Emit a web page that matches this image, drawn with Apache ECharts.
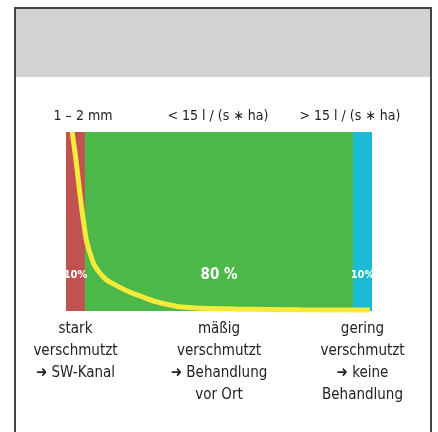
<!DOCTYPE html>
<html>
<head>
<meta charset="utf-8">
<script src="https://cdn.jsdelivr.net/npm/echarts@6/dist/echarts.min.js"></script>
<style>
  html, body { margin: 0; padding: 0; background: #fff; }
  #chart { width: 438px; height: 432px; }
</style>
</head>
<body>
<div id="chart"></div>
<script>
// segment widths along the axis (0..100) and their texts
const segments = [6.2, 87.6, 6.2];
const segmentColors = ['#c05352', '#4cb849', '#1bbcd3'];
const segmentLabels = ['10%', '80 %', '10%'];
const headLabels = ['1 – 2 mm', '< 15 l / (s ∗ ha)', '> 15 l / (s ∗ ha)'];
const footLabels = [
  'stark\nverschmutzt\n➜ SW-Kanal',
  'mäßig\nverschmutzt\n➜ Behandlung\nvor Ort',
  'gering\nverschmutzt\n➜ keine\nBehandlung'
];
// yellow curve: [x, y]
const curve = [
  [2.0, 100], [3.3, 83.8], [4.6, 64.8], [5.9, 48.0], [7.5, 34.1],
  [11.1, 21.2], [16.7, 14.0], [24.2, 8.4], [32.4, 3.9], [42.2, 1.7],
  [55.2, 1.1], [76.5, 0.7], [99.3, 0.6]
];

const font = '"DejaVu Sans Condensed", "Liberation Sans Narrow", sans-serif';
const chart = echarts.init(document.getElementById('chart'));

const GRID = { left: 66, right: 66, top: 132, bottom: 121 };

chart.setOption({
  animation: false,
  grid: GRID,
  xAxis: [
    { type: 'value', min: 0, max: 100, show: false },
    { type: 'value', min: 0, max: 100, show: false }
  ],
  yAxis: [
    { type: 'value', min: 0, max: 100, show: false },
    { type: 'category', data: [''], show: false }
  ],
  series: segments.map((v, i) => ({
    type: 'bar',
    stack: 'all',
    xAxisIndex: 1,
    yAxisIndex: 1,
    barWidth: '100%',
    data: [v],
    itemStyle: { color: segmentColors[i] },
    label: {
      show: true,
      formatter: segmentLabels[i],
      position: ['50%', '80%'],
      align: 'center',
      verticalAlign: 'middle',
      color: '#fff',
      fontFamily: font,
      fontWeight: 'bold',
      fontSize: i === 1 ? 15 : 11
    }
  })).concat([{
    type: 'line',
    xAxisIndex: 0,
    yAxisIndex: 0,
    data: curve,
    smooth: 0.5,
    showSymbol: false,
    lineStyle: { color: '#f7ea38', width: 5 },
    z: 5
  }])
});

// frame, header band and texts
const graphic = [
  {
    type: 'rect',
    shape: { x: 15, y: 9, width: 415, height: 68 },
    style: { fill: '#d1d2d4' }
  },
  {
    type: 'rect',
    shape: { x: 15, y: 8, width: 416, height: 440 },
    style: { fill: null, stroke: '#444', lineWidth: 2 }
  }
];
const headX = [83, 218, 350];
headLabels.forEach((t, i) => {
  graphic.push({
    type: 'text',
    x: headX[i],
    y: 116,
    style: {
      text: t, fill: '#222', font: '14px ' + font,
      textAlign: 'center', textVerticalAlign: 'middle'
    }
  });
});
let acc = 0;
footLabels.forEach((t, i) => {
  const mid = acc + segments[i] / 2;
  acc += segments[i];
  const px = chart.convertToPixel({ xAxisIndex: 1 }, mid);
  graphic.push({
    type: 'text',
    x: px,
    y: 318,
    style: {
      text: t, fill: '#222', font: '15px ' + font,
      textAlign: 'center', textVerticalAlign: 'top', lineHeight: 22
    }
  });
});
chart.setOption({ graphic: graphic });
</script>
</body>
</html>
